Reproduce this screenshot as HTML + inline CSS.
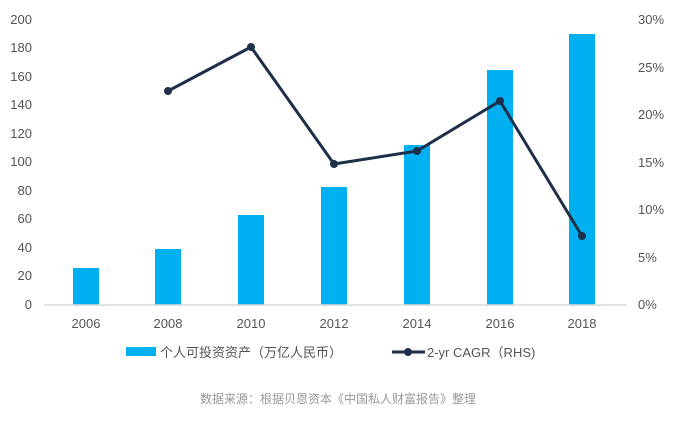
<!DOCTYPE html>
<html><head><meta charset="utf-8"><style>
body{margin:0;background:#fff;}
svg text{font-family:"Liberation Sans","Noto Sans CJK SC",sans-serif;}
</style></head><body>
<svg width="680" height="416" viewBox="0 0 680 416" xmlns="http://www.w3.org/2000/svg">
<g font-size="13" fill="#555" text-anchor="end">
<text x="32" y="309">0</text><text x="32" y="280">20</text><text x="32" y="252">40</text><text x="32" y="223">60</text><text x="32" y="195">80</text><text x="32" y="166">100</text><text x="32" y="138">120</text><text x="32" y="109">140</text><text x="32" y="81">160</text><text x="32" y="52">180</text><text x="32" y="24">200</text>
</g>
<g font-size="13" fill="#555" text-anchor="start">
<text x="638" y="309">0%</text><text x="638" y="262">5%</text><text x="638" y="214">10%</text><text x="638" y="167">15%</text><text x="638" y="119">20%</text><text x="638" y="72">25%</text><text x="638" y="24">30%</text>
</g>
<g fill="#00b0f0">
<rect x="73" y="268" width="26" height="37"/>
<rect x="155" y="249" width="26" height="56"/>
<rect x="238" y="215" width="26" height="90"/>
<rect x="321" y="187" width="26" height="118"/>
<rect x="404" y="145" width="26" height="160"/>
<rect x="487" y="70" width="26" height="235"/>
<rect x="569" y="34" width="26" height="271"/>
</g>
<line x1="44" y1="305" x2="627" y2="305" stroke="#d9d9d9" stroke-width="1.5"/>
<g font-size="13" fill="#555" text-anchor="middle">
<text x="86" y="328">2006</text><text x="168" y="328">2008</text><text x="251" y="328">2010</text><text x="334" y="328">2012</text><text x="417" y="328">2014</text><text x="500" y="328">2016</text><text x="582" y="328">2018</text>
</g>
<polyline points="168,91 251,47 334,164 417,151 500,101 582,236" fill="none" stroke="#1f2f4a" stroke-width="3" stroke-linejoin="round"/>
<g fill="#1f2f4a">
<circle cx="168" cy="91" r="4"/><circle cx="251" cy="47" r="4"/><circle cx="334" cy="164" r="4"/><circle cx="417" cy="151" r="4"/><circle cx="500" cy="101" r="4"/><circle cx="582" cy="236" r="4"/>
</g>
<rect x="126" y="347" width="30" height="9" fill="#00b0f0"/>
<text x="160" y="357" font-size="13" fill="#555">个人可投资资产（万亿人民币）</text>
<line x1="392" y1="352" x2="425" y2="352" stroke="#1f2f4a" stroke-width="3"/>
<circle cx="408" cy="352" r="4" fill="#1f2f4a"/>
<text x="427" y="357" font-size="13" fill="#555">2-yr CAGR（RHS)</text>
<text x="338" y="403" font-size="12" fill="#999" text-anchor="middle">数据来源：根据贝恩资本《中国私人财富报告》整理</text>
</svg>
</body></html>
